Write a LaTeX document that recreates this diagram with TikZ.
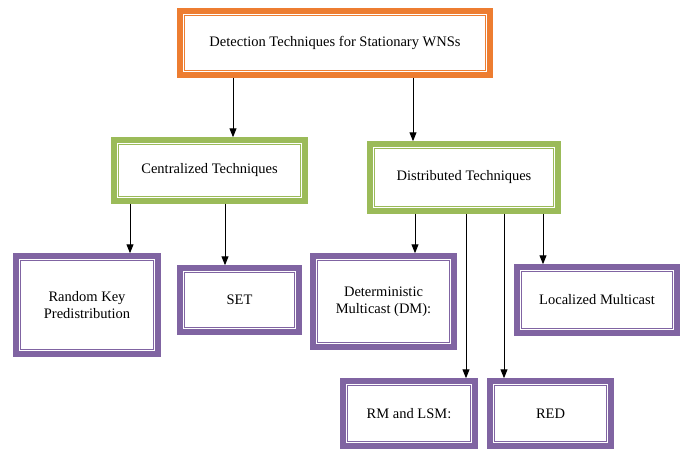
\documentclass[tikz,border=0pt]{standalone}
\usepackage{fontspec}
\setmainfont{Liberation Serif}
\newfontfamily\boxfont{Liberation Serif}
\usetikzlibrary{arrows.meta,calc}
\definecolor{orng}{RGB}{237,125,49}
\definecolor{grn}{RGB}{155,187,89}
\definecolor{prpl}{RGB}{128,100,162}
\begin{document}
\begin{tikzpicture}[x=1pt,y=-1pt,
  bx/.style={draw=#1, line width=5.5pt, fill=white, inner sep=0pt, align=center,
    font=\boxfont\fontsize{14.5}{17}\selectfont, text=black},
  inbx/.style={draw=#1, line width=1.4pt},
  arr/.style={-{Triangle[length=9pt,width=7pt]}, line width=1pt, black}]
\useasboundingbox (0,0) rectangle (685,453);
\node[bx=orng, minimum width=310pt, minimum height=64pt] (top) at (335,43) {Detection Techniques for Stationary WNSs};
\node[bx=grn, minimum width=191pt, minimum height=61pt] (cent) at (209.5,170.5) {Centralized Techniques};
\node[bx=grn, minimum width=188pt, minimum height=67pt] (dist) at (464,177.5) {Distributed Techniques};
\node[bx=prpl, minimum width=142pt, minimum height=98pt] (rkp) at (87,305) {Random Key\\Predistribution};
\node[bx=prpl, minimum width=119pt, minimum height=64pt] (set) at (239.5,300) {SET};
\node[bx=prpl, minimum width=141pt, minimum height=91pt] (det) at (383.5,301.5) {Deterministic\\Multicast (DM):};
\node[bx=prpl, minimum width=160pt, minimum height=66pt] (loc) at (597,300) {Localized Multicast};
\node[bx=prpl, minimum width=132pt, minimum height=65pt] (rm) at (409,413.5) {RM and LSM:};
\node[bx=prpl, minimum width=121pt, minimum height=65pt] (red) at (550.5,413.5) {RED};
\foreach \n/\c in {top/orng,cent/grn,dist/grn,rkp/prpl,set/prpl,det/prpl,loc/prpl,rm/prpl,red/prpl}
  \draw[inbx=\c] ($(\n.north west)+(7.5,7.5)$) rectangle ($(\n.south east)+(-7.5,-7.5)$);
\coordinate (a1) at (233,0);
\coordinate (a2) at (413,0);
\coordinate (a3) at (130,0);
\coordinate (a4) at (225,0);
\coordinate (a5) at (415,0);
\coordinate (a6) at (466,0);
\coordinate (a7) at (504,0);
\coordinate (a8) at (543,0);
\draw[arr] (top.south -| a1) -- (cent.north -| a1);
\draw[arr] (top.south -| a2) -- (dist.north -| a2);
\draw[arr] (cent.south -| a3) -- (rkp.north -| a3);
\draw[arr] (cent.south -| a4) -- (set.north -| a4);
\draw[arr] (dist.south -| a5) -- (det.north -| a5);
\draw[arr] (dist.south -| a6) -- (rm.north -| a6);
\draw[arr] (dist.south -| a7) -- (red.north -| a7);
\draw[arr] (dist.south -| a8) -- (loc.north -| a8);
\end{tikzpicture}
\end{document}
